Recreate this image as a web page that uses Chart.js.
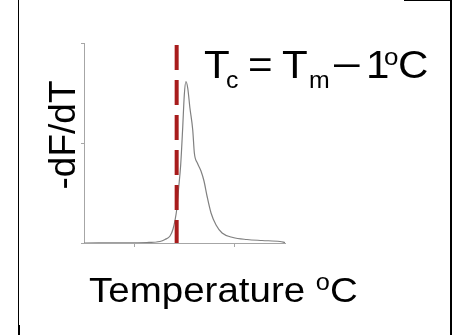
<!DOCTYPE html>
<html>
<head>
<meta charset="utf-8">
<script src="https://cdn.jsdelivr.net/npm/chart.js@4/dist/chart.umd.min.js"></script>
<style>
  html, body { margin: 0; padding: 0; background: #ffffff; }
  #wrap { position: relative; width: 460px; height: 335px; }
</style>
</head>
<body>
<div id="wrap"><canvas id="c"></canvas></div>
<script>
// ---- data ----
const tempX = [0, 31.3, 37.8, 40.3, 42.8, 44.3, 45.3, 46.1, 47.0, 48.1, 49.1, 49.9, 50.7, 51.6, 52.7, 54.1, 54.9, 56.4, 58.2, 59.7, 61.2, 63.2, 65.7, 68.7, 74.1, 81.1, 88.6, 97.5, 100];
const dfdt  = [0, 0.005, 0.015, 0.035, 0.07, 0.14, 0.23, 0.33, 0.53, 0.78, 1.15, 1.48, 1.615, 1.55, 1.35, 1.13, 0.90, 0.80, 0.72, 0.62, 0.47, 0.30, 0.18, 0.10, 0.055, 0.035, 0.025, 0.015, 0.005];
const tcX = [46.1, 46.1];
const tcY = [1.98, 0];
const xTicks = [25, 75];
const yTicks = [0, 1, 2];
const yLabel = "-dF/dT";
const xLabel = "Temperature ";
const degSign = "o";
const degUnit = "C";

const FONT = "'Liberation Sans', Arial, sans-serif";

function txt(ctx, s, x, y, size, sx) {
  ctx.save();
  ctx.font = size + "px " + FONT;
  ctx.translate(x, y);
  ctx.scale(sx || 1, 1);
  ctx.fillText(s, 0, 0);
  const w = ctx.measureText(s).width * (sx || 1);
  ctx.restore();
  return w;
}

const decor = {
  id: 'decor',
  afterDraw(chart) {
    const ctx = chart.ctx;
    ctx.save();
    ctx.fillStyle = '#000';
    // frame fragments
    ctx.fillRect(18, 0, 1, 325);
    ctx.fillRect(18, 325, 2, 10);
    ctx.fillRect(450, 0, 2, 335);
    ctx.fillRect(404, 0, 48, 1);

    ctx.textAlign = 'left';
    ctx.textBaseline = 'alphabetic';
    // annotation Tc = Tm – 1ºC
    txt(ctx, "T", 204, 78, 39, 1.08);
    txt(ctx, "c", 226, 88, 23, 1.08);
    txt(ctx, "=", 248, 78, 39, 1.08);
    txt(ctx, "T", 282, 78, 39, 1.08);
    txt(ctx, "m", 309, 88, 23, 1.08);
    txt(ctx, "\u2013", 334, 76, 39, 1.18);
    txt(ctx, "1", 366, 78, 39, 1.08);
    txt(ctx, "o", 384, 65, 24, 1.08);
    txt(ctx, "C", 398, 78, 39, 1.08);

    // x label
    let x = 89;
    x += txt(ctx, xLabel, x, 302, 35, 1.1);
    x += txt(ctx, degSign, x, 290, 23, 1.1);
    txt(ctx, degUnit, x, 302, 35, 1.1);

    // y label
    ctx.save();
    ctx.translate(75, 135);
    ctx.rotate(-Math.PI / 2);
    ctx.textAlign = 'center';
    ctx.font = "37px " + FONT;
    ctx.fillText(yLabel, 0, 0);
    ctx.restore();
    ctx.restore();
  }
};

new Chart(document.getElementById('c'), {
  type: 'line',
  data: {
    datasets: [
      {
        data: tcX.map((v, i) => ({ x: v, y: tcY[i] })),
        borderColor: '#a81c1c',
        borderWidth: 4,
        borderDash: [25, 10],
        borderCapStyle: 'butt',
        pointRadius: 0,
        fill: false,
        order: 0
      },
      {
        data: tempX.map((v, i) => ({ x: v, y: dfdt[i] })),
        borderColor: '#808080',
        borderWidth: 1.2,
        pointRadius: 0,
        cubicInterpolationMode: 'monotone',
        fill: false,
        order: 1
      }
    ]
  },
  options: {
    responsive: true,
    maintainAspectRatio: false,
    animation: false,
    layout: { padding: { top: 43, right: 175, left: 0, bottom: 0 } },
    plugins: { legend: { display: false }, tooltip: { enabled: false }, title: { display: false } },
    scales: {
      x: {
        type: 'linear', min: 0, max: 100,
        afterBuildTicks: s => { s.ticks = xTicks.map(v => ({ value: v })); },
        afterFit: s => { s.height = 92; },
        ticks: { display: false },
        grid: { display: true, drawOnChartArea: false, drawTicks: true, tickLength: 4, color: '#a6a6a6' },
        border: { display: true, color: '#a6a6a6', width: 1 }
      },
      y: {
        type: 'linear', min: 0, max: 2,
        afterBuildTicks: s => { s.ticks = yTicks.map(v => ({ value: v })); },
        afterFit: s => { s.width = 84; },
        ticks: { display: false },
        grid: { display: true, drawOnChartArea: false, drawTicks: true, tickLength: 3, color: '#a6a6a6' },
        border: { display: true, color: '#a6a6a6', width: 1 }
      }
    }
  },
  plugins: [decor]
});
</script>
</body>
</html>
